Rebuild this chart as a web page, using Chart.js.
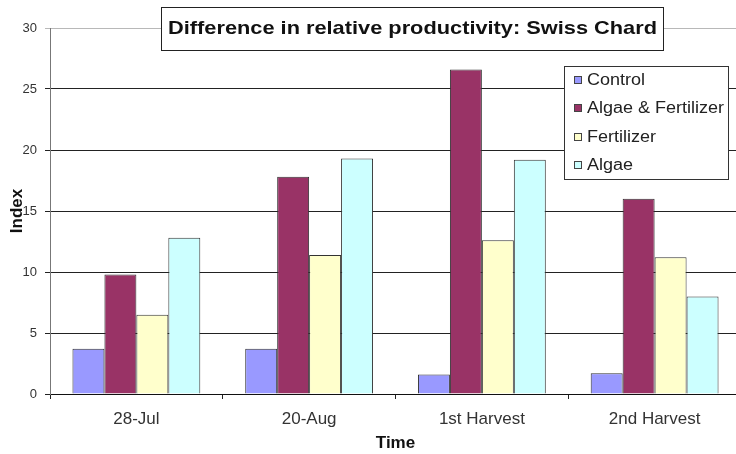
<!DOCTYPE html>
<html>
<head>
<meta charset="utf-8">
<script src="https://cdn.jsdelivr.net/npm/chart.js@4/dist/chart.umd.min.js"></script>
<style>
  html, body { margin: 0; padding: 0; background: #fff; overflow: hidden; }
  #wrap { width: 750px; height: 454px; position: relative; }
</style>
</head>
<body>
<div id="wrap"><canvas id="c"></canvas></div>
<script>
// Sampling times
const categories = ['28-Jul', '20-Aug', '1st Harvest', '2nd Harvest'];

// Relative productivity index per treatment
const control = [3.7, 3.7, 1.6, 1.7];
const algaeFertilizer = [9.8, 17.8, 26.6, 16.0];
const fertilizer = [6.5, 11.4, 12.6, 11.2];
const algae = [12.8, 19.3, 19.2, 8.0];

const seriesNames = ['Control', 'Algae & Fertilizer', 'Fertilizer', 'Algae'];
const yTicks = [0, 5, 10, 15, 20, 25, 30];

const titleText = 'Difference in relative productivity: Swiss Chard';
const FONT = '"Liberation Sans", Arial, sans-serif';

const colors = ['#9999FF', '#993366', '#FFFFCC', '#CCFFFF'];
const seriesData = [control, algaeFertilizer, fertilizer, algae];

// Draw text at (x, y) squeezed or widened horizontally to a given width
function fitText(ctx, text, x, y, width) {
  const w = ctx.measureText(text).width;
  ctx.save();
  ctx.translate(x, y);
  ctx.scale(width / w, 1);
  ctx.fillText(text, 0, 0);
  ctx.restore();
}

// Boxed title and legend drawn over the plot area
const overlay = {
  id: 'overlay',
  afterDraw(chart) {
    const ctx = chart.ctx;
    ctx.save();
    // title box
    ctx.fillStyle = '#fff';
    ctx.fillRect(161.5, 7.5, 502, 43);
    ctx.strokeStyle = '#222';
    ctx.lineWidth = 1;
    ctx.strokeRect(161.5, 7.5, 502, 43);
    ctx.fillStyle = '#111';
    ctx.font = 'bold 19px ' + FONT;
    ctx.textAlign = 'left';
    ctx.textBaseline = 'alphabetic';
    fitText(ctx, titleText, 168, 34, 489);

    // legend box
    ctx.fillStyle = '#fff';
    ctx.fillRect(564.5, 66.5, 164, 113);
    ctx.strokeStyle = '#333';
    ctx.strokeRect(564.5, 66.5, 164, 113);
    ctx.font = '16px ' + FONT;
    ctx.textBaseline = 'middle';
    const longest = ctx.measureText('Algae & Fertilizer').width;
    const sx = 137 / longest;
    const rows = [80, 108, 137, 165];
    chart.data.datasets.forEach((ds, i) => {
      const y = rows[i];
      ctx.fillStyle = ds.backgroundColor;
      ctx.fillRect(574.5, y - 3.5, 7, 7);
      ctx.strokeStyle = '#444';
      ctx.strokeRect(574.5, y - 3.5, 7, 7);
      ctx.fillStyle = '#222';
      fitText(ctx, ds.label, 587, y + 1, ctx.measureText(ds.label).width * sx);
    });
    ctx.restore();
  }
};

new Chart(document.getElementById('c'), {
  type: 'bar',
  data: {
    labels: categories,
    datasets: seriesNames.map((name, i) => ({
      label: name,
      data: seriesData[i],
      backgroundColor: colors[i],
      borderColor: '#333',
      borderWidth: 1,
      categoryPercentage: 0.74,
      barPercentage: 1.0
    }))
  },
  options: {
    responsive: true,
    maintainAspectRatio: false,
    animation: false,
    layout: { padding: { left: 0, top: 28, right: 9, bottom: 0 } },
    plugins: {
      legend: { display: false },
      tooltip: { enabled: false }
    },
    scales: {
      x: {
        offset: true,
        grid: {
          offset: true,
          drawOnChartArea: false,
          drawTicks: true,
          tickLength: 5,
          color: '#222'
        },
        border: { color: '#111', width: 1 },
        ticks: {
          color: '#333',
          font: { family: FONT, size: 17 },
          padding: 10,
          maxRotation: 0
        },
        title: {
          display: true,
          text: 'Time',
          color: '#111',
          font: { family: FONT, size: 17, weight: 'bold' },
          padding: { top: 0, bottom: 0 }
        },
        afterFit(scale) { scale.height = 60; }
      },
      y: {
        min: 0,
        max: 30,
        afterBuildTicks(scale) { scale.ticks = yTicks.map(v => ({ value: v })); },
        grid: {
          color: ctx => (ctx.tick && ctx.tick.value === 30) ? '#b8b8b8' : '#222',
          lineWidth: 1,
          tickLength: 5,
          drawTicks: true
        },
        border: { color: '#777', width: 1 },
        ticks: {
          color: '#333',
          font: { family: FONT, size: 13 },
          padding: 8
        },
        title: {
          display: true,
          text: 'Index',
          color: '#111',
          font: { family: FONT, size: 17, weight: 'bold' },
          padding: { top: 7, bottom: 0 }
        },
        afterFit(scale) { scale.width = 50; }
      }
    }
  },
  plugins: [overlay]
});
</script>
</body>
</html>
